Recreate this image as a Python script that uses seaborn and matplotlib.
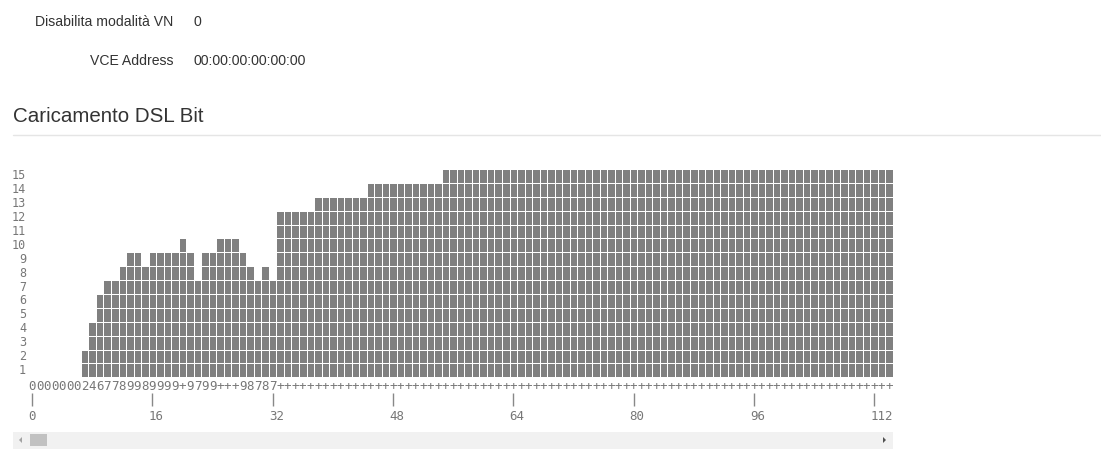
import numpy as np
import pandas as pd
import matplotlib
matplotlib.use('Agg')
import matplotlib.pyplot as plt
import matplotlib.transforms as mtransforms
from matplotlib.colors import ListedColormap
from matplotlib.patches import Rectangle, Polygon
from matplotlib.lines import Line2D
import seaborn as sns

# bits loaded on each tone (0..114 visible in the scroll window)
bits = [
    0, 0, 0, 0, 0, 0, 0, 2, 4, 6, 7, 7, 8, 9, 9, 8,
    9, 9, 9, 9, 10, 9, 7, 9, 9, 10, 10, 10, 9, 8, 7, 8,
    7, 12, 12, 12, 12, 12, 13, 13, 13, 13, 13, 13, 13, 14, 14, 14,
    14, 14, 14, 14, 14, 14, 14, 15, 15, 15, 15, 15, 15, 15, 15, 15,
    15, 15, 15, 15, 15, 15, 15, 15, 15, 15, 15, 15, 15, 15, 15, 15,
    15, 15, 15, 15, 15, 15, 15, 15, 15, 15, 15, 15, 15, 15, 15, 15,
    15, 15, 15, 15, 15, 15, 15, 15, 15, 15, 15, 15, 15, 15, 15, 15,
    15, 15, 15,
]
levels = list(range(15, 0, -1))
tone_ticks = [0, 16, 32, 48, 64, 80, 96, 112]

info_labels = ['Disabilita modalità VN', 'VCE Address']
info_values = ['0', '00:00:00:00:00:00']

W, H = 1101, 465
fig = plt.figure(figsize=(W / 100, H / 100), dpi=100)
sns.set_style('white')
plt.rcParams['font.family'] = ['Liberation Sans', 'DejaVu Sans']

def fx(px):
    return px / W

def fy(py):
    return 1 - py / H

# header info rows
for i, (lab, val) in enumerate(zip(info_labels, info_values)):
    y = [22, 61][i]
    fig.text(fx(173), fy(y), lab, ha='right', va='center', fontsize=10.1, color='#333333')
    fig.text(fx(193), fy(y), val, ha='left', va='center', fontsize=10.1, color='#333333')

fig.text(fx(13), fy(117), 'Caricamento DSL Bit', ha='left', va='center', fontsize=14.8, color='#333333')
fig.add_artist(Line2D([fx(13), 1], [fy(135), fy(135)], transform=fig.transFigure, color='#e5e5e5', lw=1))

# grid of loaded bits
tones = np.arange(len(bits))
grid = pd.DataFrame([[1.0 if b >= lv else np.nan for b in bits] for lv in levels],
                    index=levels, columns=tones)

left, right, top, bottom = 28.3, 893.0, 169.0, 377.3
ax = fig.add_axes([fx(left), fy(bottom), fx(right - left), (bottom - top) / H])
sns.heatmap(grid, ax=ax, cmap=ListedColormap(['#808080']), cbar=False,
            linewidths=0.45, linecolor='white', vmin=0, vmax=1)

digits = ['+' if b >= 10 else str(b) for b in bits]
ax.set_xticks(tones + 0.5)
ax.set_xticklabels(digits, rotation=0, fontsize=9, family='DejaVu Sans Mono', color='#777777')
ax.set_yticks(np.arange(len(levels)) + 0.5)
ax.set_yticklabels([str(v) for v in levels], rotation=0, fontsize=8.5,
                   family='DejaVu Sans Mono', color='#777777')
ax.tick_params(axis='both', length=0, pad=2)
ax.tick_params(axis='y', pad=1.5)
ax.set_xlabel('')
ax.set_ylabel('')
for s in ax.spines.values():
    s.set_visible(False)

# tone index scale below the digit row (labels start at the tone's left edge)
sec = ax.secondary_xaxis(-0.075)
sec.set_xticks([t + 0.5 for t in tone_ticks])
sec.set_xticklabels([str(t) for t in tone_ticks], fontsize=9, family='DejaVu Sans Mono',
                    color='#777777', ha='left')
sec.tick_params(axis='x', length=9, width=1, color='#888888', pad=3, direction='out')
sec.spines['bottom'].set_visible(False)
shift = mtransforms.ScaledTranslation(-3.9 / 100, 0, fig.dpi_scale_trans)
clip = Rectangle((fx(0), 0), fx(893), 1, transform=fig.transFigure)
for lab in sec.get_xticklabels():
    lab.set_transform(lab.get_transform() + shift)
    lab.set_clip_path(clip)

# scrollbar
fig.add_artist(Rectangle((fx(13), fy(449)), fx(880), 17 / H, transform=fig.transFigure,
                         facecolor='#f1f1f1', edgecolor='none'))
fig.add_artist(Rectangle((fx(30), fy(446)), fx(17), 12 / H, transform=fig.transFigure,
                         facecolor='#c1c1c1', edgecolor='none'))
fig.add_artist(Polygon([[fx(19), fy(440)], [fx(22), fy(437)], [fx(22), fy(443)]], closed=True,
                       transform=fig.transFigure, facecolor='#a3a3a3', edgecolor='none'))
fig.add_artist(Polygon([[fx(886), fy(440)], [fx(883), fy(437)], [fx(883), fy(443)]], closed=True,
                       transform=fig.transFigure, facecolor='#505050', edgecolor='none'))

fig.savefig('out.png', dpi=100)
